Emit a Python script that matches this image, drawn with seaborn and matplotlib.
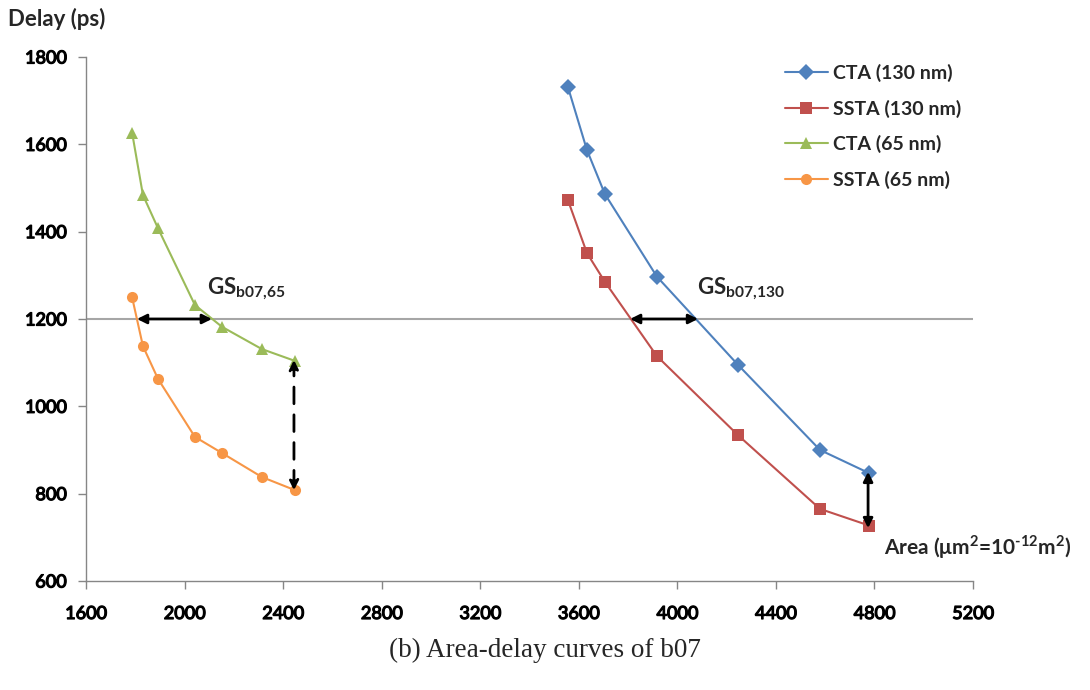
import pandas as pd
import matplotlib.pyplot as plt
import matplotlib.patheffects as pe
import seaborn as sns

sns.set_theme(style="white")
plt.rcParams["font.family"] = ["Lato", "DejaVu Sans"]
plt.rcParams["mathtext.fontset"] = "custom"
plt.rcParams["mathtext.rm"] = "Lato"
plt.rcParams["mathtext.bf"] = "Lato:bold"

# ── data ────────────────────────────────────────────────────────────────────
area_130 = [3556, 3633, 3706, 3917, 4246, 4579, 4778]
cta_130 = [1731, 1587, 1486, 1297, 1095, 900, 847]
ssta_130 = [1472, 1351, 1285, 1115, 934, 765, 727]

area_65 = [1787, 1831, 1892, 2042, 2152, 2314, 2448]
cta_65 = [1627, 1484, 1408, 1232, 1182, 1131, 1104]
ssta_65 = [1250, 1138, 1063, 930, 893, 838, 808]

series = ["CTA (130 nm)", "SSTA (130 nm)", "CTA (65 nm)", "SSTA (65 nm)"]
colors = ["#4F81BD", "#C0504D", "#9BBB59", "#F79646"]
markers = ["D", "s", "^", "o"]

xticks = [1600, 2000, 2400, 2800, 3200, 3600, 4000, 4400, 4800, 5200]
yticks = [600, 800, 1000, 1200, 1400, 1600, 1800]

df = pd.concat([
    pd.DataFrame({"area": area_130, "delay": cta_130, "series": series[0]}),
    pd.DataFrame({"area": area_130, "delay": ssta_130, "series": series[1]}),
    pd.DataFrame({"area": area_65, "delay": cta_65, "series": series[2]}),
    pd.DataFrame({"area": area_65, "delay": ssta_65, "series": series[3]}),
], ignore_index=True)

fig = plt.figure(figsize=(10.9, 6.9), dpi=100)
ax = fig.add_axes([0.0789, 0.158, 0.8138, 0.7594])

ax.axhline(1200, color="#A6A6A6", lw=1.5, zorder=1)

sns.lineplot(data=df, x="area", y="delay", hue="series", style="series",
             hue_order=series, style_order=series,
             palette=dict(zip(series, colors)), markers=dict(zip(series, markers)),
             dashes=False, sort=False, lw=1.5, markersize=8, markeredgewidth=0,
             ax=ax, zorder=3)

ax.set_xlim(1600, 5200)
ax.set_ylim(600, 1800)
ax.set_xticks(xticks)
ax.set_yticks(yticks)
ax.set_xlabel("")
ax.set_ylabel("")

for s in ["top", "right"]:
    ax.spines[s].set_visible(False)
for s in ["left", "bottom"]:
    ax.spines[s].set_color("#868686")
    ax.spines[s].set_linewidth(1.0)
ax.tick_params(axis="both", which="major", direction="out", length=6,
               width=1.0, color="#868686", bottom=True, left=True)
ax.tick_params(axis="x", pad=12)
ax.tick_params(axis="y", pad=8)
# narrow digits, made heavier with a thin stroke
for lab in ax.get_xticklabels() + ax.get_yticklabels():
    lab.set_fontfamily(["Liberation Sans Narrow", "Lato", "DejaVu Sans"])
    lab.set_fontsize(13)
    lab.set_color("black")
    lab.set_path_effects([pe.withStroke(linewidth=0.9, foreground="black")])

leg = ax.legend(loc="upper left", bbox_to_anchor=(0.768, 1.02), frameon=False,
                fontsize=14, handlelength=2.2, handletextpad=0.3,
                labelspacing=0.9)
for t in leg.get_texts():
    t.set_fontweight("bold")

# annotations
arrow = dict(arrowstyle="<|-|>", color="black", lw=2, mutation_scale=14,
             shrinkA=0, shrinkB=0)
ax.annotate("", xy=(1807, 1200), xytext=(2111, 1200), arrowprops=arrow, zorder=5)
ax.annotate("", xy=(3808, 1200), xytext=(4084, 1200), arrowprops=arrow, zorder=5)
ax.annotate("", xy=(4774, 850), xytext=(4774, 721), arrowprops=arrow, zorder=5)
ax.annotate("", xy=(2444, 1106), xytext=(2444, 808),
            arrowprops=dict(arrowstyle="<|-|>", color="black", lw=2,
                            linestyle=(0, (6, 4)), mutation_scale=14,
                            shrinkA=0, shrinkB=0), zorder=5)

ax.text(2090, 1240, r"$\mathbf{GS}_{\mathbf{b07{,}65}}$", fontsize=16, ha="left", va="bottom")
ax.text(4080, 1240, r"$\mathbf{GS}_{\mathbf{b07{,}130}}$", fontsize=16, ha="left", va="bottom")

fig.text(0.007, 0.972, "Delay (ps)", fontsize=16, fontweight="bold", va="center")
fig.text(0.811, 0.207, "Area (μm$^{\\mathbf{2}}$=10$^{\\mathbf{\u2010}\\mathbf{12}}$m$^{\\mathbf{2}}$)",
         fontsize=15, fontweight="bold", va="center")
fig.text(0.5, 0.058, "(b) Area-delay curves of b07", fontsize=19.5,
         family=["Liberation Serif", "DejaVu Serif"], ha="center", va="center")

fig.savefig("out.png", dpi=100)
